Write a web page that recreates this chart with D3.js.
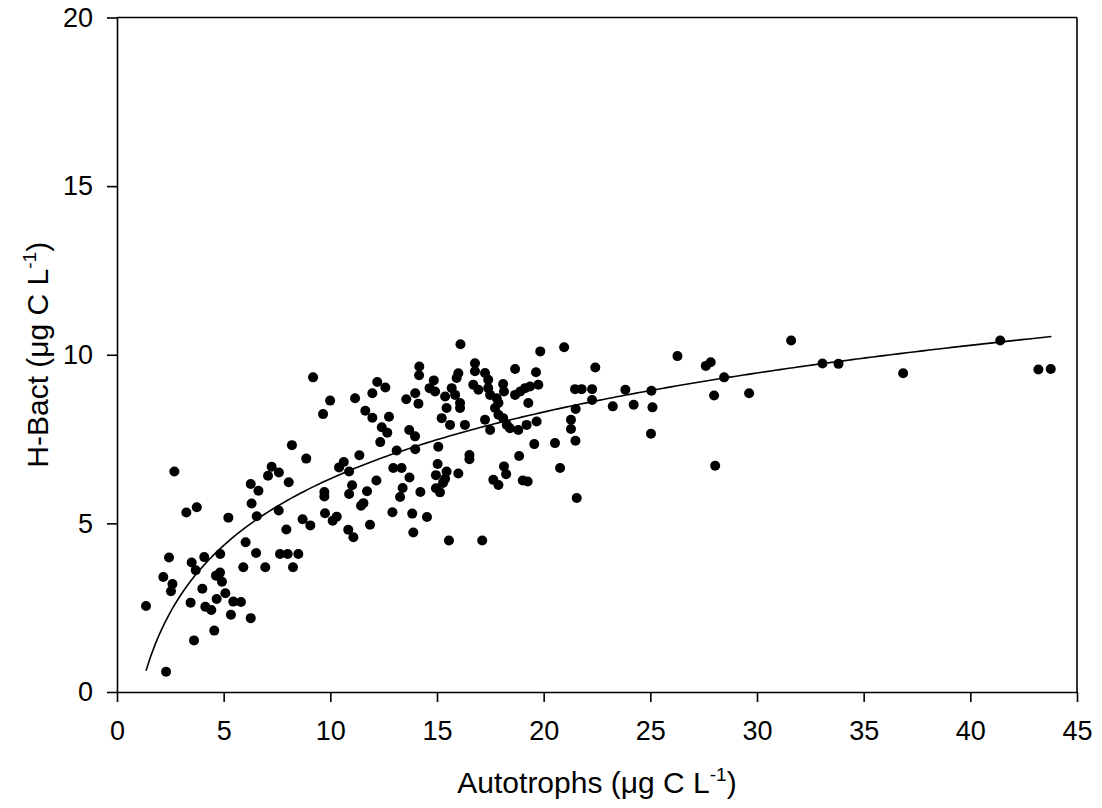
<!DOCTYPE html>
<html>
<head>
<meta charset="utf-8">
<script src="https://cdn.jsdelivr.net/npm/d3@7"></script>
<style>
  html, body { margin: 0; padding: 0; background: #fff; }
  svg text { font-family: "Liberation Sans", Arial, sans-serif; fill: #000; }
</style>
</head>
<body>
<svg id="chart" width="1102" height="808"></svg>
<script>
// ---- data ----
const autotrophs = [
  1.36, 2.30, 3.25, 3.74, 2.44, 2.17, 2.60, 2.53, 3.50, 3.69,
  4.09, 4.84, 5.22, 3.61, 3.45, 4.00, 4.14, 4.42, 4.56, 4.67,
  4.64, 4.83, 4.92, 5.08, 5.34, 5.45, 5.81, 6.27, 5.92, 6.03,
  6.52, 6.95, 6.31, 6.55, 7.58, 7.94, 7.64, 8.00, 8.50, 8.25,
  8.70, 9.06, 6.27, 6.63, 7.08, 8.05, 9.19, 2.69, 8.20, 8.87,
  7.25, 7.59,
  9.99, 9.66, 11.16, 12.20, 12.58, 11.97, 11.64, 11.97, 12.75, 12.41,
  12.67, 12.34, 11.36, 10.63, 10.41, 10.88, 11.02, 10.88, 9.72, 9.72,
  11.72, 12.16, 11.55, 11.44, 9.75, 10.30, 10.11, 10.84, 11.08, 11.86,
  12.91, 13.84, 14.53, 13.89, 15.56, 17.12, 16.10, 13.56, 13.98, 14.17,
  14.16, 14.13, 14.85, 14.65, 14.91, 15.38, 15.45, 15.69, 15.92, 16.00,
  15.85, 16.08, 16.08, 16.78, 16.78, 17.25, 17.40, 16.70, 16.94, 17.40,
  17.49, 17.80, 18.10, 17.88, 17.72, 17.88, 18.10, 18.27, 15.22, 15.61,
  16.31, 17.25, 17.49, 13.70, 13.97, 13.11, 13.98, 15.06, 16.52, 16.52,
  12.95, 13.34, 13.71, 15.03, 14.95, 15.45, 15.38, 15.28, 16.00, 15.14,
  14.22, 13.39, 13.27, 17.64, 17.88, 14.95,
  19.84, 20.96, 22.42, 18.66, 19.64, 18.14, 18.66, 18.90, 19.13, 19.36,
  19.75, 19.28, 18.42, 18.81, 19.20, 19.67, 19.56, 20.53, 18.85, 18.14,
  18.24, 19.02, 19.25, 20.77, 21.55, 21.47, 21.78, 22.27, 22.27, 21.50,
  21.28, 21.28, 21.49, 23.24, 23.83, 24.22, 25.05, 25.10, 25.03, 26.27,
  31.60, 27.60, 27.83, 28.46, 27.99, 29.63, 28.04, 33.07, 33.82, 36.85,
  41.40, 43.19, 43.77
];
const hBact = [
  2.55, 0.60, 5.32, 5.48, 3.99, 3.41, 3.20, 2.99, 3.84, 3.61,
  4.00, 4.09, 5.17, 1.53, 2.65, 3.06, 2.53, 2.43, 1.82, 2.76,
  3.45, 3.54, 3.27, 2.93, 2.29, 2.68, 2.67, 2.19, 3.70, 4.44,
  4.12, 3.70, 5.59, 5.21, 5.38, 4.82, 4.09, 4.09, 4.09, 3.70,
  5.12, 4.94, 6.17, 5.97, 6.41, 6.22, 9.33, 6.54, 7.32, 6.92,
  6.68, 6.51,
  8.64, 8.24, 8.71, 9.19, 9.03, 8.86, 8.34, 8.13, 8.16, 7.85,
  7.69, 7.41, 7.02, 6.82, 6.66, 6.54, 6.13, 5.87, 5.93, 5.80,
  5.95, 6.27, 5.60, 5.52, 5.30, 5.20, 5.08, 4.81, 4.59, 4.96,
  5.33, 5.29, 5.19, 4.73, 4.49, 4.49, 10.31, 8.68, 8.86, 9.65,
  9.39, 8.55, 9.24, 9.01, 8.91, 8.76, 8.42, 9.01, 9.31, 9.45,
  8.81, 8.57, 8.42, 9.75, 9.51, 9.46, 9.26, 9.11, 8.96, 9.01,
  8.81, 8.71, 9.13, 8.57, 8.42, 8.22, 8.12, 7.92, 8.12, 7.92,
  7.92, 8.07, 7.77, 7.77, 7.58, 7.16, 7.20, 7.27, 7.03, 6.90,
  6.64, 6.64, 6.36, 6.76, 6.04, 6.54, 6.32, 6.20, 6.48, 5.92,
  5.93, 6.05, 5.78, 6.29, 6.14, 6.43,
  10.10, 10.22, 9.62, 9.58, 9.48, 8.91, 8.81, 8.91, 9.01, 9.06,
  9.11, 8.57, 7.82, 7.77, 7.92, 8.02, 7.35, 7.38, 7.00, 6.69,
  6.46, 6.27, 6.24, 6.64, 5.75, 8.98, 8.98, 8.98, 8.66, 8.39,
  8.07, 7.80, 7.45, 8.47, 8.96, 8.52, 8.93, 8.44, 7.66, 9.96,
  10.42, 9.67, 9.78, 9.33, 8.79, 8.86, 6.71, 9.74, 9.73, 9.45,
  10.42, 9.56, 9.58
];
const xTicks = [0, 5, 10, 15, 20, 25, 30, 35, 40, 45];
const yTicks = [0, 5, 10, 15, 20];

// logarithmic regression  y = a + b ln(x)
const fitA = -0.248;
const fitB = 2.854;
const fitRange = [1.36, 43.8];

// ---- drawing ----
const svg = d3.select("#chart");
const mLeft = 117, mRight = 1077, mTop = 17.5, mBottom = 692;

const x = d3.scaleLinear().domain([0, 45]).range([mLeft, mRight]);
const y = d3.scaleLinear().domain([0, 20]).range([mBottom, mTop]);

const tickFont = 27;

// x axis
const xAxis = svg.append("g")
  .attr("transform", `translate(0,${mBottom})`)
  .call(d3.axisBottom(x).tickValues(xTicks).tickSize(10).tickPadding(19).tickSizeOuter(0));
xAxis.selectAll("text").style("font-size", tickFont + "px");

// y axis
const yAxis = svg.append("g")
  .attr("transform", `translate(${mLeft},0)`)
  .call(d3.axisLeft(y).tickValues(yTicks).tickSize(10).tickPadding(14).tickSizeOuter(0));
yAxis.selectAll("text").style("font-size", tickFont + "px");

svg.selectAll(".domain, .tick line").attr("stroke", "#000").attr("stroke-width", 1.6);

// frame (top and right)
svg.append("line").attr("x1", mLeft).attr("x2", mRight).attr("y1", mTop).attr("y2", mTop)
  .attr("stroke", "#000").attr("stroke-width", 1.6);
svg.append("line").attr("x1", mRight).attr("x2", mRight).attr("y1", mTop).attr("y2", mBottom)
  .attr("stroke", "#000").attr("stroke-width", 1.6);

// points
svg.append("g").selectAll("circle")
  .data(autotrophs.map((v, i) => [v, hBact[i]]))
  .join("circle")
  .attr("cx", d => x(d[0]))
  .attr("cy", d => y(d[1]))
  .attr("r", 5)
  .attr("fill", "#000");

// fitted curve
const n = 200;
const curveX = d3.range(n + 1).map(i => fitRange[0] + (fitRange[1] - fitRange[0]) * i / n);
svg.append("path")
  .datum(curveX)
  .attr("fill", "none")
  .attr("stroke", "#000")
  .attr("stroke-width", 1.6)
  .attr("d", d3.line().x(d => x(d)).y(d => y(fitA + fitB * Math.log(d))));

// axis titles
const titleFont = 30;
const xt = svg.append("text")
  .attr("x", (mLeft + mRight) / 2)
  .attr("y", 793)
  .attr("text-anchor", "middle")
  .style("font-size", titleFont + "px");
xt.append("tspan").text("Autotrophs (μg C L");
xt.append("tspan").attr("dy", -12).style("font-size", "19px").text("-1");
xt.append("tspan").attr("dy", 12).text(")");

const yt = svg.append("text")
  .attr("transform", `translate(48,${(mTop + mBottom) / 2}) rotate(-90)`)
  .attr("text-anchor", "middle")
  .style("font-size", titleFont + "px");
yt.append("tspan").text("H-Bact (μg C L");
yt.append("tspan").attr("dy", -12).style("font-size", "19px").text("-1");
yt.append("tspan").attr("dy", 12).text(")");
</script>
</body>
</html>
